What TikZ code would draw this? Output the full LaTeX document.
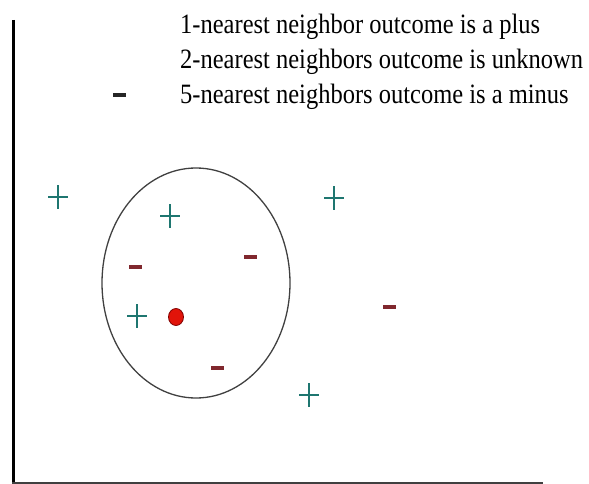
\documentclass[tikz,border=0pt]{standalone}
\usepackage{fontspec}
\newfontfamily\notefont{Liberation Serif}[FakeStretch=0.875]
\usepackage{tikz}
\usetikzlibrary{shapes.geometric, positioning, calc}

\definecolor{plusteal}{RGB}{30,118,112}
\definecolor{minusred}{RGB}{128,40,46}
\definecolor{dotred}{RGB}{225,20,10}

\begin{document}
\begin{tikzpicture}[x=1pt, y=-1pt,
  plussign/.style={minimum width=20pt, minimum height=24pt, inner sep=0pt,
    path picture={\draw[plusteal, line width=2.8pt]
      (path picture bounding box.north) -- (path picture bounding box.south)
      (path picture bounding box.west) -- (path picture bounding box.east);}},
  minussign/.style={fill=minusred, minimum width=13pt, minimum height=3.5pt, inner sep=0pt},
  caption/.style={anchor=base west, inner sep=0pt, font=\notefont\fontsize{28}{34}\selectfont}]
  \useasboundingbox (0,0) rectangle (589,484);

  % axes
  \coordinate (top) at (13,20);
  \coordinate (origin) at (13,484);
  \coordinate (base) at (12,483);
  \coordinate (right) at (543,483);
  \draw[line width=3pt] (top) -- (origin);
  \draw[line width=2pt, black!75] (base) -- (right);

  % legend
  \node[caption] (lineA) at (180,33.5) {1-nearest neighbor outcome is a plus};
  \node[caption] (lineB) at (180,69) {2-nearest neighbors outcome is unknown};
  \node[caption] (lineC) at (180,104) {5-nearest neighbors outcome is a minus};
  \node[minussign, fill=black!85] (mark) at (119,95) {};

  % neighbourhood
  \node[draw=black!75, line width=1.3pt, ellipse, minimum width=188pt, minimum height=230pt] (hood) at (196,283) {};
  \node[fill=dotred, draw=red!50!black, line width=0.8pt, ellipse, minimum width=15pt, minimum height=17pt, inner sep=0pt] (query) at (176,317) {};

  % plus points
  \node[plussign] (pA) at (58,197) {};
  \node[plussign] (pB) at (170,216) {};
  \node[plussign] (pC) at (334,198) {};
  \node[plussign] (pD) at (137,316) {};
  \node[plussign] (pE) at (309,395) {};

  % minus points
  \node[minussign] (mA) at (135,267) {};
  \node[minussign] (mB) at (250,257) {};
  \node[minussign] (mC) at (389,307) {};
  \node[minussign] (mD) at (217,368) {};
\end{tikzpicture}
\end{document}
